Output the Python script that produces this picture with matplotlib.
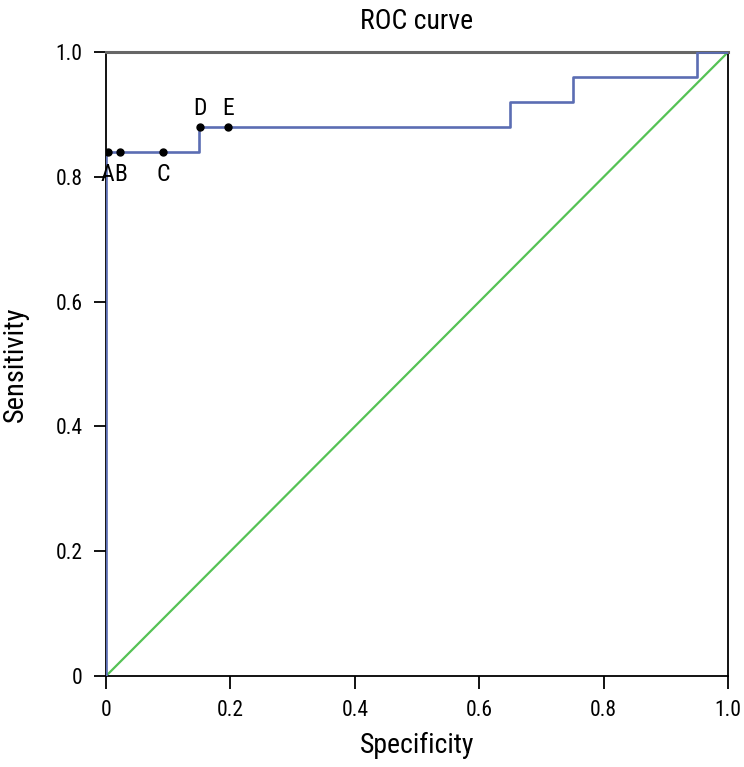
import matplotlib.pyplot as plt
from matplotlib import font_manager

# ROC step curve (specificity axis as drawn, sensitivity)
roc_x = [0.0, 0.0, 0.15, 0.15, 0.65, 0.65, 0.75, 0.75, 0.95, 0.95, 1.0]
roc_y = [0.0, 0.84, 0.84, 0.88, 0.88, 0.92, 0.92, 0.96, 0.96, 1.0, 1.0]

# marked cut-off points
point_labels = ["A", "B", "C", "D", "E"]
point_x = [0.003, 0.022, 0.092, 0.151, 0.196]
point_y = [0.84, 0.84, 0.84, 0.88, 0.88]

tick_vals = [0, 0.2, 0.4, 0.6, 0.8, 1.0]
tick_labels = ["0", "0.2", "0.4", "0.6", "0.8", "1.0"]

names = {f.name for f in font_manager.fontManager.ttflist}
wanted = ["Liberation Sans Narrow", "Roboto Condensed", "DejaVu Sans Condensed", "Roboto", "DejaVu Sans"]
plt.rcParams["font.family"] = [n for n in wanted if n in names]

fig = plt.figure(figsize=(7.44, 7.67), dpi=100)
ax = fig.add_axes([0.1425, 0.1186, 0.836, 0.8134])

ax.plot([0, 1], [0, 1], color="#55c255", lw=1.6, zorder=2)
ax.plot(roc_x, roc_y, color="#5b6db3", lw=1.9, zorder=3)
ax.plot(point_x, point_y, "o", color="black", ms=5, zorder=4)

for lab, x, y in zip(point_labels, point_x, point_y):
    if y > 0.86:
        ax.text(x, y + 0.011, lab, ha="center", va="bottom", fontsize=17)
    elif lab == "A":
        ax.text(x + 0.01, y - 0.018, lab, ha="right", va="top", fontsize=17)
    elif lab == "B":
        ax.text(x - 0.008, y - 0.018, lab, ha="left", va="top", fontsize=17)
    else:
        ax.text(x, y - 0.018, lab, ha="center", va="top", fontsize=17)

ax.set_xlim(0, 1)
ax.set_ylim(0, 1)
ax.set_xticks(tick_vals)
ax.set_xticklabels(tick_labels)
ax.set_yticks(tick_vals)
ax.set_yticklabels(tick_labels)
ax.tick_params(direction="out", length=9, width=1.3, labelsize=15.5, pad=8)

for side in ["left", "bottom", "right"]:
    ax.spines[side].set_color("black")
    ax.spines[side].set_linewidth(1.3)
ax.spines["top"].set_color("#666666")
ax.spines["top"].set_linewidth(2.2)

ax.set_title("ROC curve", fontsize=20, pad=17)
ax.set_xlabel("Specificity", fontsize=20, labelpad=8)
ax.set_ylabel("Sensitivity", fontsize=20.5, labelpad=19)

fig.savefig("out.png", dpi=100)
